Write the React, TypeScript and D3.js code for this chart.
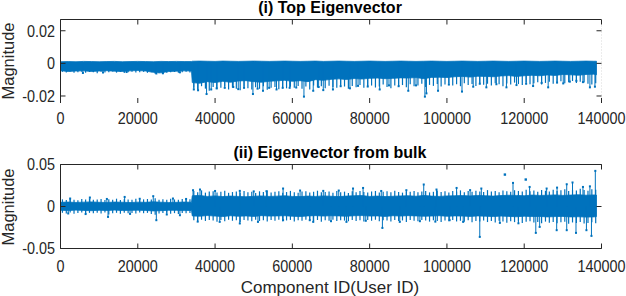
import React from "react";
import * as d3 from "d3";

// ---------- data ----------
const xTicks = [0, 20000, 40000, 60000, 80000, 100000, 120000, 140000];
const topYTicks = [-0.02, 0, 0.02];
const bottomYTicks = [-0.05, 0, 0.05];
const topTitle = "(i) Top Eigenvector";
const bottomTitle = "(ii) Eigenvector from bulk";
const xLabel = "Component ID(User ID)";
const yLabel = "Magnitude";

// component ids of the dense-core envelope samples
const componentIds = [
  ...d3.range(0, 34000, 2000),
  33900,
  34100,
  ...d3.range(36000, 138001, 2000),
  138700,
];
// component ids of the fringe (comb) samples
const fringeIds = d3.range(500, 139000, 1000);

// (i) top eigenvector: dense core upper / lower edge
const topBandHigh = [
  0.0010, 0.0011, 0.0010, 0.0012, 0.0011, 0.0010, 0.0011, 0.0012, 0.0010, 0.0011,
  0.0012, 0.0011, 0.0010, 0.0012, 0.0011, 0.0012, 0.0011, 0.0011,
  0.0013, 0.0014, 0.0013, 0.0012, 0.0014, 0.0013, 0.0012, 0.0013, 0.0014, 0.0013,
  0.0012, 0.0013, 0.0014, 0.0013, 0.0012, 0.0013, 0.0014, 0.0012, 0.0013, 0.0014,
  0.0013, 0.0012, 0.0013, 0.0014, 0.0013, 0.0012, 0.0013, 0.0014, 0.0013, 0.0012,
  0.0013, 0.0014, 0.0013, 0.0012, 0.0013, 0.0014, 0.0013, 0.0012, 0.0013, 0.0014,
  0.0013, 0.0012, 0.0013, 0.0014, 0.0013, 0.0012, 0.0013, 0.0014, 0.0013, 0.0012,
  0.0013, 0.0014, 0.0013, 0.0013,
];
const topBandLow = [
  -0.0045, -0.0050, -0.0047, -0.0046, -0.0050, -0.0047, -0.0045, -0.0048, -0.0050, -0.0046,
  -0.0044, -0.0047, -0.0055, -0.0058, -0.0050, -0.0048, -0.0046, -0.0047,
  -0.0118, -0.0122, -0.0112, -0.0118, -0.0110, -0.0116, -0.0108, -0.0106, -0.0112, -0.0116,
  -0.0110, -0.0107, -0.0104, -0.0110, -0.0106, -0.0112, -0.0100, -0.0104, -0.0098, -0.0095,
  -0.0099, -0.0093, -0.0096, -0.0092, -0.0090, -0.0094, -0.0092, -0.0089, -0.0090, -0.0087,
  -0.0094, -0.0086, -0.0085, -0.0087, -0.0082, -0.0080, -0.0084, -0.0079, -0.0080, -0.0082,
  -0.0077, -0.0075, -0.0080, -0.0076, -0.0073, -0.0076, -0.0071, -0.0074, -0.0068, -0.0070,
  -0.0073, -0.0068, -0.0066, -0.0070,
];
// (i) lower fringe of the band, one value per 1000 components
const topFringeLow = [
  -0.0052, -0.0056, -0.0050, -0.0058, -0.0054, -0.0051, -0.0057, -0.0053, -0.0055, -0.0060,
  -0.0052, -0.0056, -0.0054, -0.0050, -0.0057, -0.0053, -0.0059, -0.0055, -0.0051, -0.0056,
  -0.0054, -0.0052, -0.0058, -0.0055, -0.0063, -0.0060, -0.0066, -0.0058, -0.0055, -0.0053,
  -0.0057, -0.0054, -0.0052, -0.0056,
  -0.0150, -0.0162, -0.0140, -0.0155, -0.0168, -0.0145, -0.0158, -0.0150, -0.0142, -0.0160,
  -0.0148, -0.0155, -0.0165, -0.0143, -0.0152, -0.0160, -0.0147, -0.0156, -0.0140, -0.0162,
  -0.0150, -0.0145, -0.0158, -0.0148, -0.0153, -0.0144,
  -0.0150, -0.0138, -0.0155, -0.0142, -0.0160, -0.0135, -0.0148, -0.0140, -0.0152, -0.0137,
  -0.0145, -0.0150, -0.0134, -0.0142, -0.0156, -0.0138, -0.0146, -0.0132, -0.0150, -0.0140,
  -0.0136, -0.0148, -0.0142, -0.0130, -0.0145, -0.0152, -0.0135, -0.0140, -0.0133, -0.0146,
  -0.0128, -0.0140, -0.0135, -0.0125, -0.0145, -0.0132, -0.0138, -0.0126, -0.0142, -0.0130,
  -0.0124, -0.0136, -0.0128, -0.0140, -0.0122, -0.0133, -0.0127, -0.0138, -0.0120, -0.0131,
  -0.0125, -0.0135, -0.0122, -0.0128, -0.0140, -0.0124, -0.0130, -0.0118, -0.0127, -0.0132,
  -0.0118, -0.0128, -0.0122, -0.0115, -0.0130, -0.0120, -0.0112, -0.0125, -0.0118, -0.0110,
  -0.0122, -0.0115, -0.0108, -0.0120, -0.0112, -0.0118, -0.0125, -0.0130, -0.0122,
];
// (i) outlying points [component id, magnitude]
const topOutliers: [number, number][] = [
  [5800, -0.0059], [11000, -0.0056], [17100, -0.0053], [24800, -0.0062], [26500, -0.006], [30900, -0.0055],
  [34500, -0.016], [35600, -0.0165], [37800, -0.0188], [39000, -0.016], [40400, -0.0153], [42500, -0.015],
  [44700, -0.0145], [46000, -0.0158], [47500, -0.015], [49800, -0.0188], [51000, -0.0155], [52400, -0.0168],
  [54000, -0.015], [55900, -0.016], [57500, -0.015], [59300, -0.015], [61000, -0.0148], [63000, -0.0204],
  [65400, -0.0168], [66800, -0.0145], [68000, -0.0164], [70500, -0.016], [72500, -0.014], [74900, -0.0153],
  [77000, -0.0138], [79500, -0.0142], [82600, -0.016], [85000, -0.0135], [87500, -0.014], [90000, -0.0168],
  [92000, -0.0135], [94300, -0.0204], [94700, -0.0184], [97700, -0.0168], [100500, -0.013], [103900, -0.0173],
  [106800, -0.0143], [108500, -0.0125], [110200, -0.0147], [112800, -0.0128], [115400, -0.0147], [118000, -0.0133],
  [120500, -0.0125], [122300, -0.0139], [124500, -0.012], [126200, -0.0147], [128500, -0.0118], [130100, -0.0123],
  [131800, -0.0112], [133500, -0.0107], [135200, -0.0115], [137000, -0.0147], [138300, -0.0143],
];

// (ii) eigenvector from bulk: dense core upper / lower edge
const bulkBandHigh = [
  0.0050, 0.0053, 0.0048, 0.0052, 0.0055, 0.0050, 0.0048, 0.0053, 0.0051, 0.0047,
  0.0052, 0.0050, 0.0056, 0.0051, 0.0048, 0.0050, 0.0053, 0.0051,
  0.0128, 0.0132, 0.0120, 0.0126, 0.0118, 0.0124, 0.0120, 0.0116, 0.0122, 0.0126,
  0.0120, 0.0123, 0.0128, 0.0120, 0.0118, 0.0124, 0.0120, 0.0126, 0.0122, 0.0118,
  0.0124, 0.0128, 0.0130, 0.0120, 0.0124, 0.0118, 0.0122, 0.0126, 0.0128, 0.0122,
  0.0132, 0.0124, 0.0120, 0.0126, 0.0128, 0.0130, 0.0126, 0.0132, 0.0128, 0.0124,
  0.0130, 0.0134, 0.0132, 0.0128, 0.0136, 0.0132, 0.0134, 0.0138, 0.0132, 0.0136,
  0.0140, 0.0134, 0.0138, 0.0136,
];
const bulkBandLow = [
  -0.0045, -0.0049, -0.0043, -0.0047, -0.0050, -0.0045, -0.0048, -0.0043, -0.0048, -0.0046,
  -0.0044, -0.0047, -0.0053, -0.0050, -0.0045, -0.0046, -0.0049, -0.0047,
  -0.0112, -0.0116, -0.0108, -0.0114, -0.0120, -0.0110, -0.0116, -0.0112, -0.0118, -0.0109,
  -0.0114, -0.0112, -0.0110, -0.0116, -0.0120, -0.0112, -0.0109, -0.0114, -0.0110, -0.0112,
  -0.0116, -0.0110, -0.0108, -0.0114, -0.0112, -0.0118, -0.0110, -0.0114, -0.0109, -0.0112,
  -0.0116, -0.0114, -0.0110, -0.0116, -0.0112, -0.0114, -0.0118, -0.0112, -0.0116, -0.0120,
  -0.0114, -0.0118, -0.0122, -0.0116, -0.0120, -0.0118, -0.0124, -0.0120, -0.0118, -0.0124,
  -0.0122, -0.0126, -0.0124, -0.0120,
];
// (ii) upper / lower fringe of the band, one value per 1000 components
const bulkFringeHigh = [
  0.0085, 0.0078, 0.0092, 0.0080, 0.0075, 0.0088, 0.0082, 0.0095, 0.0079, 0.0084,
  0.0090, 0.0076, 0.0086, 0.0081, 0.0093, 0.0078, 0.0087, 0.0083, 0.0080, 0.0091,
  0.0077, 0.0085, 0.0089, 0.0082, 0.0098, 0.0080, 0.0086, 0.0079, 0.0092, 0.0084,
  0.0081, 0.0088, 0.0083, 0.0087,
  0.0185, 0.0170, 0.0192, 0.0165, 0.0178, 0.0182, 0.0168, 0.0175, 0.0188, 0.0163,
  0.0172, 0.0180, 0.0166, 0.0185, 0.0170, 0.0176, 0.0162, 0.0181, 0.0174, 0.0190,
  0.0168, 0.0177, 0.0183, 0.0165, 0.0172, 0.0186, 0.0170, 0.0164, 0.0178, 0.0182,
  0.0167, 0.0175, 0.0188, 0.0169, 0.0173, 0.0180, 0.0165, 0.0184, 0.0171, 0.0177,
  0.0162, 0.0183, 0.0170, 0.0186, 0.0174, 0.0168, 0.0179, 0.0185, 0.0166, 0.0176,
  0.0181, 0.0169, 0.0188, 0.0172, 0.0165, 0.0180, 0.0176, 0.0184, 0.0170, 0.0178,
  0.0186, 0.0168, 0.0175, 0.0190, 0.0172, 0.0182, 0.0167, 0.0185, 0.0178, 0.0192,
  0.0170, 0.0184, 0.0176, 0.0188, 0.0180, 0.0173, 0.0195, 0.0178, 0.0186, 0.0170,
  0.0190, 0.0182, 0.0176, 0.0194, 0.0185, 0.0178, 0.0198, 0.0183, 0.0190, 0.0176,
  0.0196, 0.0188, 0.0180, 0.0200, 0.0186, 0.0192, 0.0205, 0.0184, 0.0198, 0.0190,
  0.0210, 0.0195, 0.0188, 0.0205, 0.0198,
];
const bulkFringeLow = [
  -0.0075, -0.0082, -0.0070, -0.0085, -0.0078, -0.0072, -0.0088, -0.0076, -0.0080, -0.0074,
  -0.0083, -0.0071, -0.0095, -0.0079, -0.0075, -0.0086, -0.0073, -0.0081, -0.0077, -0.0084,
  -0.0072, -0.0080, -0.0076, -0.0088, -0.0098, -0.0082, -0.0078, -0.0074, -0.0085, -0.0079,
  -0.0090, -0.0076, -0.0081, -0.0077,
  -0.0165, -0.0178, -0.0158, -0.0172, -0.0160, -0.0168, -0.0182, -0.0162, -0.0175, -0.0158,
  -0.0170, -0.0164, -0.0185, -0.0160, -0.0168, -0.0176, -0.0159, -0.0172, -0.0165, -0.0180,
  -0.0162, -0.0170, -0.0158, -0.0175, -0.0166, -0.0160, -0.0178, -0.0163, -0.0171, -0.0158,
  -0.0168, -0.0175, -0.0161, -0.0182, -0.0165, -0.0170, -0.0158, -0.0174, -0.0163, -0.0168,
  -0.0176, -0.0160, -0.0172, -0.0165, -0.0180, -0.0162, -0.0170, -0.0158, -0.0175, -0.0164,
  -0.0168, -0.0178, -0.0160, -0.0172, -0.0166, -0.0184, -0.0162, -0.0170, -0.0176, -0.0160,
  -0.0168, -0.0180, -0.0164, -0.0172, -0.0186, -0.0166, -0.0175, -0.0162, -0.0178, -0.0170,
  -0.0182, -0.0165, -0.0188, -0.0172, -0.0178, -0.0168, -0.0185, -0.0174, -0.0190, -0.0170,
  -0.0180, -0.0192, -0.0175, -0.0186, -0.0178, -0.0195, -0.0182, -0.0176, -0.0190, -0.0184,
  -0.0198, -0.0180, -0.0192, -0.0186, -0.0200, -0.0188, -0.0182, -0.0205, -0.0190, -0.0196,
  -0.0185, -0.0202, -0.0195, -0.0188, -0.0198,
];
// (ii) outlying points [component id, magnitude]
const bulkOutliers: [number, number][] = [
  [2500, 0.0095], [7600, 0.0107], [12000, 0.009], [16600, 0.0114], [20500, 0.0092], [24000, 0.0123],
  [29100, 0.0095], [32500, 0.009],
  [2000, -0.0083], [6500, -0.009], [12300, -0.0124], [18000, -0.0088], [24800, -0.0163], [27500, -0.0095],
  [30900, -0.0104],
  [34300, 0.0194], [36100, 0.0202], [40000, 0.0185], [46400, 0.0186], [50000, 0.018], [53300, 0.0182],
  [57600, 0.0214], [62000, 0.019], [68000, 0.0186], [72000, 0.019], [75700, 0.0214], [78300, 0.0221],
  [83000, 0.0185], [89500, 0.0194], [94000, 0.0262], [97300, 0.0202], [102500, 0.0221], [106000, 0.0195],
  [108900, 0.0214], [117100, 0.0281], [121400, 0.0233], [125800, 0.0214], [128500, 0.0225],
  [131000, 0.0265], [132500, 0.0286], [135200, 0.0233], [137000, 0.024], [138400, 0.0424],
  [35500, -0.018], [41200, -0.0183], [46400, -0.0202], [51100, -0.0183], [57600, -0.0163], [64500, -0.0163],
  [65400, -0.0183], [70000, -0.0175], [74000, -0.0183], [79000, -0.017], [83300, -0.0255], [87800, -0.0183],
  [93000, -0.0175], [97000, -0.018], [100700, -0.0163], [104200, -0.0183], [108500, -0.0362], [113700, -0.0195],
  [118500, -0.02], [123000, -0.0314], [124000, -0.0243], [128400, -0.0282], [131000, -0.0282], [133400, -0.0314],
  [136100, -0.0282], [137400, -0.035],
];
// (ii) isolated points without a visible stem
const bulkIsolated: [number, number][] = [
  [115000, 0.038], [120400, 0.0321],
];

// ---------- styling ----------
const W = 626;
const H = 296;
const BLUE = "#0072BD";
const AXIS = "#262626";
const FONT = "'Liberation Sans', Arial, Helvetica, sans-serif";
const SQUEEZE = 0.9;

const x = d3.scaleLinear().domain([0, 140000]).range([60.5, 601.5]);
const yTop = d3.scaleLinear().domain([-0.0243, 0.0269]).range([103, 19.5]);
const yBot = d3.scaleLinear().domain([-0.05, 0.05]).range([248.5, 164.5]);

type PanelProps = {
  y: d3.ScaleLinear<number, number>;
  yTicks: number[];
  hi: number[];
  lo: number[];
  fringeHi: number[] | null;
  fringeLo: number[];
  outliers: [number, number][];
  isolated: [number, number][];
  title: string;
  titleY: number;
  xLabelY: number;
  yLabelY: number;
  bottomLine: boolean;
  rightLine: boolean;
};

const fmt = (v: number) => (v === 0 ? "0" : v < 0 ? "-" + String(Math.abs(v)) : String(v));

function Panel(p: PanelProps) {
  const [yB, yT] = p.y.range();
  const x0 = x.range()[0];
  const x1 = x.range()[1];
  const area = d3
    .area<number>()
    .x((_, i) => x(componentIds[i]))
    .y0((_, i) => p.y(p.lo[i]))
    .y1((_, i) => p.y(p.hi[i]))
    .curve(d3.curveLinear);
  const tl = 5;
  return (
    <g>
      {fringeIds.map((id, i) => (
        <line
          key={"f" + i}
          x1={x(id)}
          x2={x(id)}
          y1={p.y(p.fringeHi ? p.fringeHi[i] : 0)}
          y2={p.y(p.fringeLo[i])}
          stroke={BLUE}
          strokeWidth={1.2}
        />
      ))}
      <path d={area(componentIds) || ""} fill={BLUE} stroke={BLUE} strokeWidth={0.8} />
      {p.outliers.map(([id, v], i) => (
        <g key={i}>
          <line x1={x(id)} x2={x(id)} y1={p.y(0)} y2={p.y(v)} stroke={BLUE} strokeWidth={1} />
          <rect x={x(id) - 1} y={p.y(v) - 1} width={2} height={2} fill={BLUE} />
        </g>
      ))}
      {p.isolated.map(([id, v], i) => (
        <rect key={i} x={x(id) - 1.2} y={p.y(v) - 1.2} width={2.4} height={2.4} fill={BLUE} />
      ))}
      {/* axes box */}
      <line x1={x0} x2={x1} y1={yT} y2={yT} stroke={AXIS} strokeWidth={1} />
      {p.bottomLine && <line x1={x0} x2={x1} y1={yB} y2={yB} stroke={AXIS} strokeWidth={1} />}
      <line x1={x0} x2={x0} y1={yT} y2={yB} stroke={AXIS} strokeWidth={1} />
      {p.rightLine && (
        <line x1={x1} x2={x1} y1={yT} y2={yB} stroke="#d8d8d8" strokeWidth={1} strokeDasharray="1,2" />
      )}
      {/* x ticks */}
      {xTicks.map((t) => (
        <g key={t}>
          <line x1={x(t)} x2={x(t)} y1={yT} y2={yT + tl} stroke={AXIS} strokeWidth={1} />
          <line x1={x(t)} x2={x(t)} y1={yB} y2={yB - tl} stroke={AXIS} strokeWidth={1} />
          <text
            transform={`translate(${x(t)},${p.xLabelY}) scale(${SQUEEZE},1)`}
            textAnchor="middle"
            fontSize={16}
            fill={AXIS}
            fontFamily={FONT}
          >
            {t}
          </text>
        </g>
      ))}
      {/* y ticks */}
      {p.yTicks.map((t) => (
        <g key={t}>
          <line x1={x0} x2={x0 + tl} y1={p.y(t)} y2={p.y(t)} stroke={AXIS} strokeWidth={1} />
          <line x1={x1} x2={x1 - tl} y1={p.y(t)} y2={p.y(t)} stroke={AXIS} strokeWidth={1} />
          <text
            transform={`translate(55,${p.y(t)}) scale(${SQUEEZE},1)`}
            dy="0.36em"
            textAnchor="end"
            fontSize={16}
            fill={AXIS}
            fontFamily={FONT}
          >
            {fmt(t)}
          </text>
        </g>
      ))}
      <text x={330} y={p.titleY} textAnchor="middle" fontSize={16} fontWeight="bold" fill="#000" fontFamily={FONT}>
        {p.title}
      </text>
      <text
        transform={`translate(14,${p.yLabelY}) rotate(-90)`}
        textAnchor="middle"
        fontSize={16.5}
        fill={AXIS}
        fontFamily={FONT}
      >
        {yLabel}
      </text>
    </g>
  );
}

export default function App() {
  return (
    <svg
      width={W}
      height={H}
      viewBox={`0 0 ${W} ${H}`}
      style={{ position: "absolute", left: 0, top: 0, background: "#fff" }}
    >
      <rect width={W} height={H} fill="#fff" />
      <Panel
        y={yTop}
        yTicks={topYTicks}
        hi={topBandHigh}
        lo={topBandLow}
        fringeHi={null}
        fringeLo={topFringeLow}
        outliers={topOutliers}
        isolated={[]}
        title={topTitle}
        titleY={13}
        xLabelY={124}
        yLabelY={61}
        bottomLine={false}
        rightLine={true}
      />
      <Panel
        y={yBot}
        yTicks={bottomYTicks}
        hi={bulkBandHigh}
        lo={bulkBandLow}
        fringeHi={bulkFringeHigh}
        fringeLo={bulkFringeLow}
        outliers={bulkOutliers}
        isolated={bulkIsolated}
        title={bottomTitle}
        titleY={157.5}
        xLabelY={272}
        yLabelY={207}
        bottomLine={true}
        rightLine={false}
      />
      <text x={330} y={292.5} textAnchor="middle" fontSize={17} fill={AXIS} fontFamily={FONT}>
        {xLabel}
      </text>
    </svg>
  );
}
